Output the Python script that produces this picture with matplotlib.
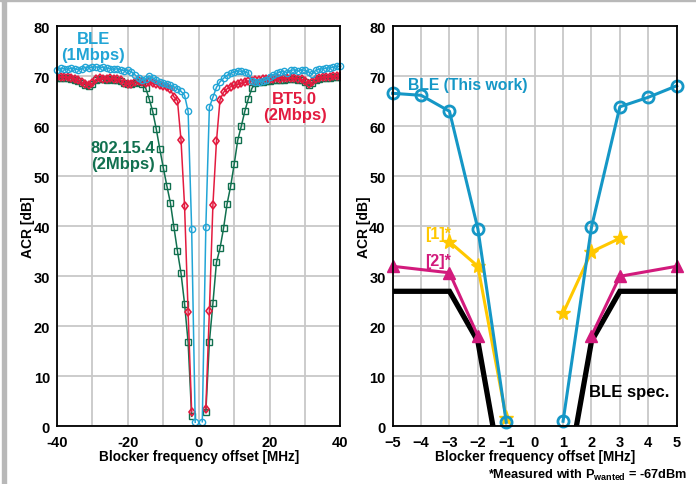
import numpy as np
import matplotlib
matplotlib.use('Agg')
import matplotlib.pyplot as plt
from matplotlib.patches import Rectangle

plt.rcParams['font.family'] = ['Liberation Sans', 'DejaVu Sans']
plt.rcParams['font.weight'] = 'bold'
plt.rcParams['mathtext.fontset'] = 'custom'
plt.rcParams['mathtext.bf'] = 'Liberation Sans:bold'
plt.rcParams['mathtext.rm'] = 'Liberation Sans:bold'

# ---- left panel: measured ACR sweeps ----
ble_x_neg = list(range(-40, 0))
ble_neg = [71.3, 71.6, 71.5, 71.4, 71.6, 71.5, 71.3, 71.5, 71.8, 71.7,
           71.8, 71.9, 71.7, 71.8, 71.6, 71.5, 71.4, 71.5, 71.3, 71.1,
           71.2, 70.9, 70.3, 69.6, 69.2, 69.4, 70.1, 69.7, 69.3, 68.9,
           68.6, 68.4, 68.2, 67.9, 67.5, 67.0, 66.2, 63.0, 39.5, 0.8]
ble_x_pos = list(range(1, 41))
ble_pos = [0.9, 39.8, 63.8, 65.8, 67.8, 68.9, 69.6, 70.2, 70.6, 70.9,
           71.1, 71.0, 70.9, 70.6, 69.0, 68.8, 68.9, 69.0, 69.3, 69.8,
           70.3, 70.6, 70.9, 71.0, 70.7, 71.2, 71.3, 71.0, 71.3, 71.2,
           70.9, 70.4, 71.2, 71.4, 71.5, 71.6, 71.7, 71.8, 72.0, 72.0]

x2_neg = list(range(-40, -1))
x2_pos = list(range(2, 41))
bt5_neg = [69.8, 69.9, 69.8, 69.8, 69.7, 69.5, 69.2, 68.8, 68.5, 68.2,
           68.6, 69.4, 69.6, 69.5, 69.5, 69.6, 69.5, 69.4, 69.3, 68.6,
           68.4, 68.5, 68.9, 69.0, 68.8, 68.7, 68.9, 68.6, 68.4, 68.2,
           68.0, 67.8, 67.4, 65.9, 65.1, 57.2, 44.0, 22.8, 2.9]
bt5_pos = [3.5, 23.0, 44.3, 57.0, 65.3, 66.8, 67.5, 67.9, 68.2, 68.4,
           68.6, 68.8, 69.0, 69.1, 69.2, 69.3, 69.4, 69.4, 69.5, 69.5,
           69.6, 69.5, 69.6, 69.7, 69.6, 69.6, 69.5, 69.4, 69.0, 68.5,
           68.8, 69.5, 69.7, 69.8, 69.9, 69.9, 70.0, 70.0, 70.0]
zig_neg = [69.6, 69.7, 69.6, 69.6, 69.5, 69.3, 69.0, 68.6, 68.3, 68.0,
           68.4, 69.2, 69.4, 69.4, 69.3, 69.4, 69.3, 69.2, 69.0, 68.6,
           68.4, 68.4, 68.7, 68.8, 68.5, 67.7, 65.5, 63.0, 59.5, 55.5,
           51.7, 48.1, 44.7, 39.8, 35.0, 30.6, 24.5, 16.8, 2.0]
zig_pos = [2.8, 16.9, 24.6, 32.8, 35.6, 39.6, 44.5, 48.0, 52.4, 57.2,
           60.0, 63.0, 65.5, 67.6, 68.6, 68.8, 68.9, 69.0, 69.1, 69.2,
           69.2, 69.3, 69.3, 69.4, 69.4, 69.4, 69.3, 69.2, 68.8, 68.3,
           68.6, 69.3, 69.5, 69.6, 69.7, 69.7, 69.8, 69.8, 69.8]

# ---- right panel: comparison ----
cmp_x = [-5, -4, -3, -2, -1, 1, 2, 3, 4, 5]
cmp_ble = [66.6, 66.2, 63.0, 39.5, 0.8, 1.0, 39.8, 63.9, 65.8, 68.1]
ref1_x_neg, ref1_neg = [-3, -2, -1], [36.9, 32.0, 1.6]
ref1_x_pos, ref1_pos = [1, 2, 3], [22.6, 34.9, 37.6]
ref2_x_neg, ref2_neg = [-5, -3, -2], [32.0, 30.7, 18.1]
ref2_x_pos, ref2_pos = [2, 3, 5], [18.1, 30.0, 32.0]
spec_x_neg, spec_neg = [-5, -3, -2, -1], [27, 27, 17, -15]
spec_x_pos, spec_pos = [1, 2, 3, 5], [-15, 17, 27, 27]

c_ble = '#22a5d6'
c_ble2 = '#1597c6'
c_bt5 = '#e31b3f'
c_zig = '#11704f'
c_ref1 = '#ffc800'
c_ref2 = '#d21a7c'
c_grid = '#c8c8c8'

fig = plt.figure(figsize=(6.96, 4.85), dpi=100)
fig.patches.append(Rectangle((0.003, 0.0), 0.006, 1.0, transform=fig.transFigure,
                             color='#b8b8b8', zorder=0))
fig.patches.append(Rectangle((0.0, 0.996), 1.0, 0.004, transform=fig.transFigure,
                             color='#b8b8b8', zorder=0))

ax1 = fig.add_axes([0.0819, 0.1190, 0.4073, 0.8247])
ax2 = fig.add_axes([0.5642, 0.1190, 0.4080, 0.8247])


def style_axes(ax):
    ax.set_ylim(0, 80)
    ax.set_yticks(range(0, 81, 10))
    ax.grid(True, color=c_grid, lw=1.3)
    ax.set_axisbelow(True)
    ax.tick_params(length=0, labelsize=10.5)
    ax.tick_params(axis='x', pad=6)
    ax.tick_params(axis='y', pad=5)
    for s in ax.spines.values():
        s.set_linewidth(1.3)
        s.set_color('black')
    ax.set_xlabel('Blocker frequency offset [MHz]', fontsize=9.8,
                  fontweight='bold', labelpad=0)
    ax.set_ylabel('ACR [dB]', fontsize=10, fontweight='bold', labelpad=-1)


# left panel
for xs, ys in [(x2_neg, zig_neg), (x2_pos, zig_pos)]:
    ax1.plot(xs, ys, '-', color=c_zig, lw=1.1, marker='s', ms=4.2,
             mfc='none', mec=c_zig, mew=1.0)
for xs, ys in [(x2_neg, bt5_neg), (x2_pos, bt5_pos)]:
    ax1.plot(xs, ys, '-', color=c_bt5, lw=1.1, marker='d', ms=4.5,
             mfc='none', mec=c_bt5, mew=1.2)
for xs, ys in [(ble_x_neg, ble_neg), (ble_x_pos, ble_pos)]:
    ax1.plot(xs, ys, '-', color=c_ble, lw=1.1, marker='o', ms=4.5,
             mfc='none', mec=c_ble, mew=1.0, clip_on=False)
ax1.set_xlim(-40, 40)
ax1.set_xticks(range(-40, 41, 10))
ax1.set_xticklabels([str(v) if v % 20 == 0 else '' for v in range(-40, 41, 10)])
style_axes(ax1)

ax1.text(-29.8, 76, 'BLE\n(1Mbps)', color=c_ble, fontsize=12, fontweight='bold',
         ha='center', va='center', linespacing=1.05)
ax1.text(-21.3, 54.2, '802.15.4\n(2Mbps)', color=c_zig, fontsize=12,
         fontweight='bold', ha='center', va='center', linespacing=1.05)
ax1.text(27.1, 64.0, 'BT5.0\n(2Mbps)', color=c_bt5, fontsize=12,
         fontweight='bold', ha='center', va='center', linespacing=1.05)

# right panel
for xs, ys in [(spec_x_neg, spec_neg), (spec_x_pos, spec_pos)]:
    ax2.plot(xs, ys, '-', color='black', lw=3.8, solid_joinstyle='miter')
for xs, ys in [(ref2_x_neg, ref2_neg), (ref2_x_pos, ref2_pos)]:
    ax2.plot(xs, ys, '-', color=c_ref2, lw=2.2, marker='^', ms=8.5,
             mfc=c_ref2, mec=c_ref2, clip_on=False)
for xs, ys in [(ref1_x_neg, ref1_neg), (ref1_x_pos, ref1_pos)]:
    ax2.plot(xs, ys, '-', color=c_ref1, lw=2.2, marker='*', ms=11,
             mfc=c_ref1, mec=c_ref1, clip_on=False)
ax2.plot(cmp_x[:5], cmp_ble[:5], '-', color=c_ble2, lw=2.2, marker='o', ms=8,
         mfc='none', mec=c_ble2, mew=2.0, clip_on=False)
ax2.plot(cmp_x[5:], cmp_ble[5:], '-', color=c_ble2, lw=2.2, marker='o', ms=8,
         mfc='none', mec=c_ble2, mew=2.0, clip_on=False)
ax2.set_xlim(-5, 5)
ax2.set_xticks(range(-5, 6))
style_axes(ax2)

ax2.text(-4.45, 68.4, 'BLE (This work)', color=c_ble2, fontsize=11.3,
         fontweight='bold', ha='left', va='center')
ax2.text(-2.95, 38.5, '[1]*', color=c_ref1, fontsize=11.5, fontweight='bold',
         ha='right', va='center')
ax2.text(-2.95, 33.2, '[2]*', color=c_ref2, fontsize=11.5, fontweight='bold',
         ha='right', va='center')
ax2.text(4.75, 6.9, 'BLE spec.', color='black', fontsize=12, fontweight='bold',
         ha='right', va='center')

fig.text(0.987, 0.019, r'*Measured with P$_{\mathbf{wanted}}$ = -67dBm',
         fontsize=9.2, fontweight='bold', ha='right', va='center')

fig.savefig('out.png', dpi=100)
